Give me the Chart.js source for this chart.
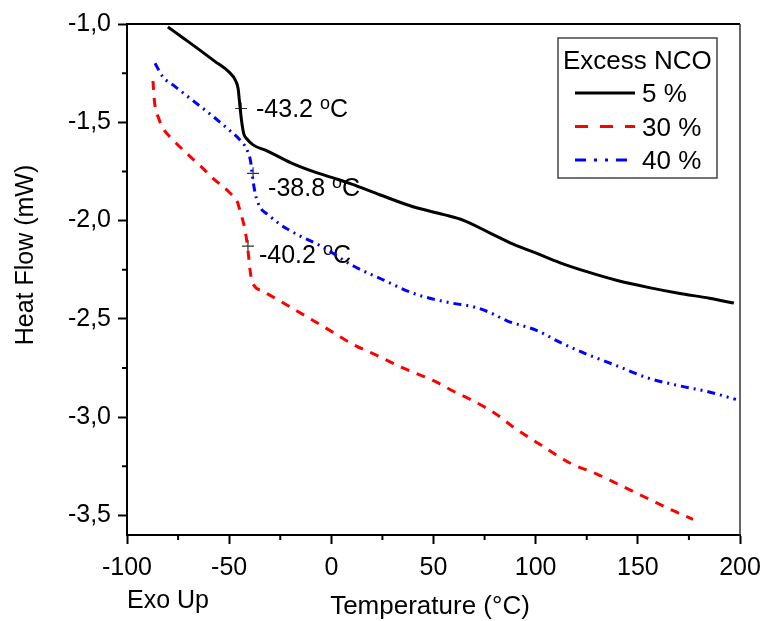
<!DOCTYPE html>
<html lang="en">
<head>
    <meta charset="UTF-8">
    <title>DSC Heat Flow</title>
    <script src="https://cdn.jsdelivr.net/npm/chart.js"></script>
    <style>
        body { margin: 0; background: #fff; }
    </style>
</head>
<body>

<canvas id="dscChart" width="767" height="621"></canvas>

<script>
    // 5 % excess NCO
    const temp5 = [-80, -72, -65, -57, -50, -47, -45.6, -45, -44.3, -43.7, -42.8, -41.3, -38.3, -31.5, -20, -9, 3, 10, 24, 40, 55, 65, 77, 89, 100, 112, 125, 140, 155, 170, 185, 197];
    const flow5 = [-1.015, -1.075, -1.128, -1.19, -1.245, -1.285, -1.33, -1.39, -1.46, -1.51, -1.56, -1.585, -1.615, -1.645, -1.705, -1.75, -1.79, -1.815, -1.87, -1.93, -1.97, -2.0, -2.06, -2.12, -2.165, -2.215, -2.26, -2.305, -2.34, -2.37, -2.395, -2.42];

    // 30 % excess NCO
    const temp30 = [-87.3, -86.5, -84.5, -82.4, -77.5, -70.6, -64.3, -57.9, -49.6, -46, -44.7, -42.2, -40.8, -39.8, -38.8, -33.4, -25, -16.8, -3, 10.6, 23, 35, 50, 60, 68, 80, 89, 103, 117, 130, 141, 155, 167, 177];
    const flow30 = [-1.29, -1.40, -1.48, -1.53, -1.59, -1.66, -1.72, -1.785, -1.86, -1.905, -1.95, -2.05, -2.15, -2.25, -2.31, -2.36, -2.41, -2.46, -2.545, -2.63, -2.69, -2.75, -2.815, -2.87, -2.91, -2.98, -3.05, -3.145, -3.235, -3.29, -3.345, -3.415, -3.475, -3.52];

    // 40 % excess NCO
    const temp40 = [-86.3, -82.4, -77.5, -67.7, -57.9, -51.1, -44.7, -41.3, -39.5, -38.8, -37.3, -35, -31, -25, -16, -5, 10.6, 25, 40, 50, 59, 70, 78, 86, 100.7, 112, 125, 140, 154.5, 170, 184, 198];
    const flow40 = [-1.20, -1.27, -1.31, -1.39, -1.47, -1.53, -1.59, -1.64, -1.70, -1.76, -1.86, -1.93, -1.97, -2.02, -2.075, -2.13, -2.23, -2.30, -2.37, -2.40, -2.42, -2.44, -2.47, -2.51, -2.56, -2.62, -2.68, -2.74, -2.80, -2.84, -2.87, -2.91];

    const seriesLabels = ['5 %', '30 %', '40 %'];

    // glass transition marks
    const tgTemps = [-44.2, -38.3, -40.8];
    const tgFlows = [-1.43, -1.76, -2.13];
    const tgTexts = ['-43.2 ', '-38.8 ', '-40.2 '];

    const xTicks = [-100, -50, 0, 50, 100, 150, 200];
    const xMinor = [-75, -25, 25, 75, 125, 175];
    const yTicks = [-1.0, -1.5, -2.0, -2.5, -3.0, -3.5];
    const yMinor = [-1.25, -1.75, -2.25, -2.75, -3.25];

    const FONT = "'Liberation Sans', Arial, sans-serif";

    function toPoints(xs, ys) {
        return xs.map((x, i) => ({ x: x, y: ys[i] }));
    }

    // offsets of the Tg texts from their cross, in px
    const tgOffsets = [[15, 8], [15, 23], [11, 17]];

    const decorations = {
        id: 'decorations',
        beforeDatasetsDraw(chart) {
            const ctx = chart.ctx;
            const meta = chart.getDatasetMeta(3);
            ctx.save();
            ctx.fillStyle = '#000';
            ctx.textBaseline = 'alphabetic';
            ctx.textAlign = 'left';
            tgTexts.forEach((txt, i) => {
                const pt = meta.data[i];
                let x = pt.x + tgOffsets[i][0];
                const y = pt.y + tgOffsets[i][1];
                ctx.font = '25px ' + FONT;
                ctx.fillText(txt, x, y);
                x += ctx.measureText(txt).width;
                ctx.font = '18px ' + FONT;
                ctx.fillText('o', x, y - 8);
                x += ctx.measureText('o').width;
                ctx.font = '25px ' + FONT;
                ctx.fillText('C', x, y);
            });
            ctx.restore();
        },
        afterDraw(chart) {
            const ctx = chart.ctx;
            const area = chart.chartArea;
            const xs = chart.scales.x;
            const ys = chart.scales.y;
            ctx.save();

            // top and right frame
            ctx.strokeStyle = '#000';
            ctx.lineWidth = 2;
            ctx.beginPath();
            ctx.moveTo(area.left, area.top);
            ctx.lineTo(area.right, area.top);
            ctx.stroke();
            ctx.strokeStyle = '#333';
            ctx.lineWidth = 1.5;
            ctx.beginPath();
            ctx.moveTo(area.right, area.top);
            ctx.lineTo(area.right, area.bottom);
            ctx.stroke();

            // minor ticks
            ctx.strokeStyle = '#000';
            ctx.lineWidth = 2;
            ctx.beginPath();
            xMinor.forEach(v => {
                const px = xs.getPixelForValue(v);
                ctx.moveTo(px, area.bottom);
                ctx.lineTo(px, area.bottom + 5);
            });
            yMinor.forEach(v => {
                const py = ys.getPixelForValue(v);
                ctx.moveTo(area.left - 5, py);
                ctx.lineTo(area.left, py);
            });
            ctx.stroke();

            // axis titles
            ctx.fillStyle = '#000';
            ctx.font = '26px ' + FONT;
            ctx.textAlign = 'center';
            ctx.textBaseline = 'alphabetic';
            ctx.fillText('Temperature (°C)', 430, 614);
            ctx.font = '25px ' + FONT;
            ctx.textAlign = 'left';
            ctx.fillText('Exo Up', 127, 608);

            ctx.save();
            ctx.translate(33, 255);
            ctx.rotate(-Math.PI / 2);
            ctx.textAlign = 'center';
            ctx.fillText('Heat Flow (mW)', 0, 0);
            ctx.restore();

            // legend
            const bx = area.right - 182;
            const by = area.top + 14;
            ctx.strokeStyle = '#444';
            ctx.lineWidth = 1.5;
            ctx.strokeRect(bx, by, 159, 140);
            ctx.font = '26px ' + FONT;
            ctx.textAlign = 'left';
            ctx.fillText('Excess NCO', bx + 5, by + 31);
            const dashes = [[], [13, 12], [11, 8, 3, 8, 3, 8]];
            chart.data.datasets.slice(0, 3).forEach((ds, i) => {
                const ly = by + 55 + i * 33.5;
                ctx.strokeStyle = ds.borderColor;
                ctx.lineWidth = 3;
                ctx.setLineDash(dashes[i]);
                ctx.beginPath();
                ctx.moveTo(bx + 17, ly);
                ctx.lineTo(bx + 77, ly);
                ctx.stroke();
                ctx.setLineDash([]);
                ctx.fillText(seriesLabels[i], bx + 84, ly + 9);
            });

            ctx.restore();
        }
    };

    const tickFont = { family: FONT, size: 25 };

    new Chart(document.getElementById('dscChart').getContext('2d'), {
        type: 'line',
        data: {
            datasets: [
                {
                    label: seriesLabels[0],
                    data: toPoints(temp5, flow5),
                    borderColor: '#000000',
                    borderWidth: 3,
                    pointRadius: 0,
                    cubicInterpolationMode: 'monotone',
                },
                {
                    label: seriesLabels[1],
                    data: toPoints(temp30, flow30),
                    borderColor: '#ff0000',
                    borderWidth: 3,
                    borderDash: [9, 8],
                    pointRadius: 0,
                    cubicInterpolationMode: 'monotone',
                },
                {
                    label: seriesLabels[2],
                    data: toPoints(temp40, flow40),
                    borderColor: '#0000ff',
                    borderWidth: 3,
                    borderDash: [8, 5, 2, 5, 2, 5],
                    pointRadius: 0,
                    cubicInterpolationMode: 'monotone',
                },
                {
                    label: 'Tg',
                    data: toPoints(tgTemps, tgFlows),
                    showLine: false,
                    pointStyle: 'cross',
                    pointRadius: 6,
                    borderColor: '#333',
                    borderWidth: 1.2,
                },
            ],
        },
        options: {
            responsive: false,
            animation: false,
            events: [],
            layout: { padding: { top: 24, right: 27, left: 0, bottom: 0 } },
            plugins: {
                legend: { display: false },
                tooltip: { enabled: false },
            },
            scales: {
                x: {
                    type: 'linear',
                    min: -100,
                    max: 200,
                    afterFit: scale => {
                        scale.height = 86;
                        scale.paddingLeft = 0;
                        scale.paddingRight = 0;
                    },
                    afterBuildTicks: scale => { scale.ticks = xTicks.map(v => ({ value: v })); },
                    border: { display: true, color: '#000', width: 2 },
                    grid: { drawOnChartArea: false, drawTicks: true, tickLength: 9, tickWidth: 2, tickColor: '#000' },
                    ticks: {
                        autoSkip: false,
                        maxRotation: 0,
                        padding: 9,
                        color: '#000',
                        font: tickFont,
                        callback: value => String(value),
                    },
                },
                y: {
                    min: -3.6,
                    max: -1.0,
                    afterFit: scale => { scale.width = 127; },
                    afterBuildTicks: scale => { scale.ticks = yTicks.map(v => ({ value: v })); },
                    border: { display: true, color: '#000', width: 2 },
                    grid: { drawOnChartArea: false, drawTicks: true, tickLength: 9, tickWidth: 2, tickColor: '#000' },
                    ticks: {
                        autoSkip: false,
                        padding: 7,
                        color: '#000',
                        font: tickFont,
                        callback: value => value.toFixed(1).replace('.', ','),
                    },
                },
            },
        },
        plugins: [decorations],
    });
</script>

</body>
</html>
